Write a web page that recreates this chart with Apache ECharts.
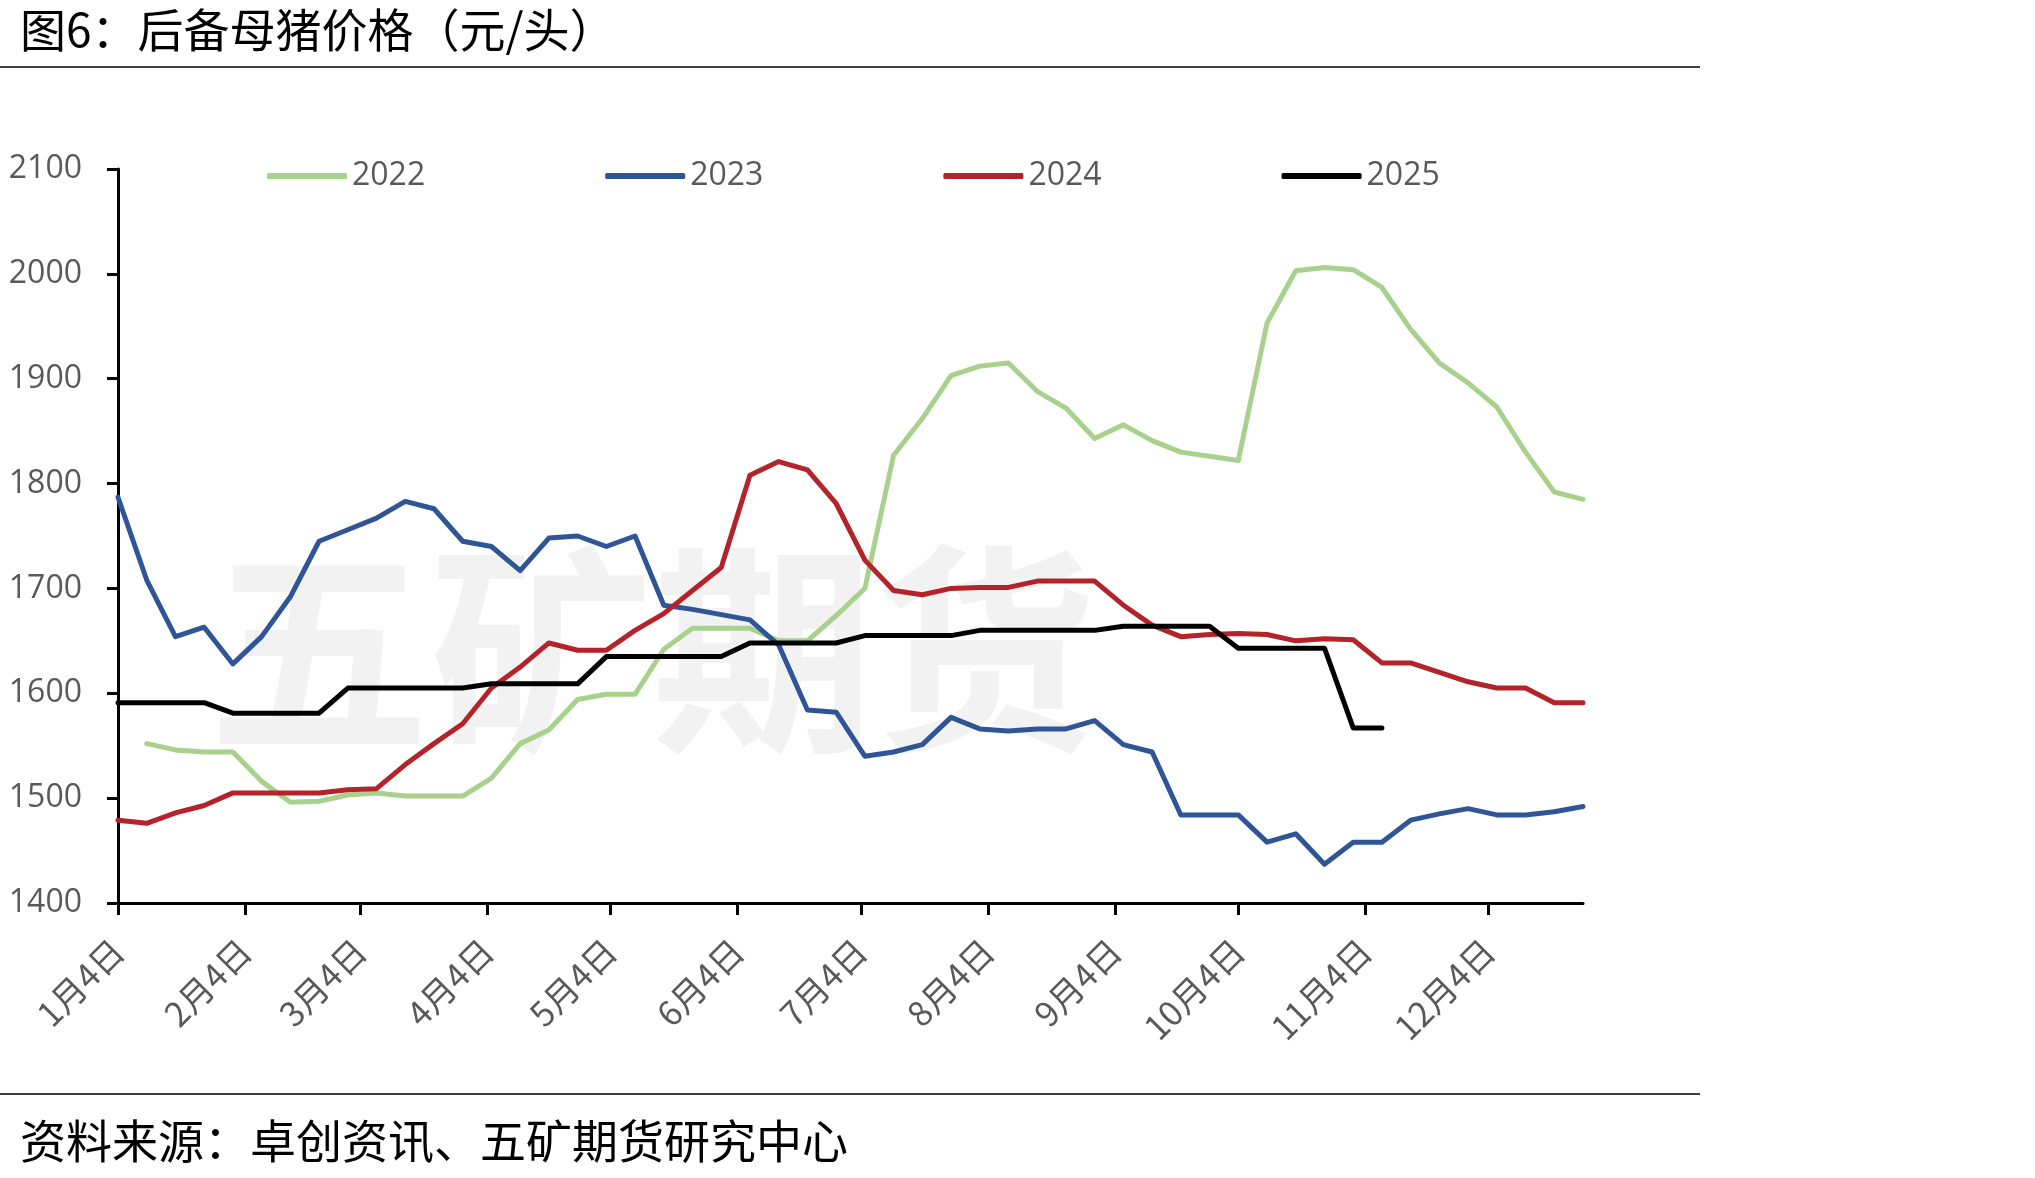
<!DOCTYPE html>
<html>
<head>
<meta charset="utf-8">
<title>后备母猪价格</title>
<script src="https://cdn.jsdelivr.net/npm/echarts@6.0.0/dist/echarts.min.js"></script>
<style>
html, body { margin: 0; padding: 0; background: #fff; }
#main { width: 2035px; height: 1178px; }
</style>
</head>
<body>
<div id="main"></div>
<script>
// 周度日期（各年份统一映射到同一日历位置）
var weekDates = ['01-04', '01-11', '01-18', '01-25', '02-01', '02-08', '02-15', '02-22',
	'03-01', '03-08', '03-15', '03-22', '03-29', '04-05', '04-12', '04-19', '04-26',
	'05-03', '05-10', '05-17', '05-24', '05-31', '06-07', '06-14', '06-21', '06-28',
	'07-05', '07-12', '07-19', '07-26', '08-02', '08-09', '08-16', '08-23', '08-30',
	'09-06', '09-13', '09-20', '09-27', '10-04', '10-11', '10-18', '10-25',
	'11-01', '11-08', '11-15', '11-22', '11-29', '12-06', '12-13', '12-20', '12-27'];

// 横轴刻度（每月4日）
var tickDates = ['01-04', '02-04', '03-04', '04-04', '05-04', '06-04',
	'07-04', '08-04', '09-04', '10-04', '11-04', '12-04'];
var tickLabels = ['1月4日', '2月4日', '3月4日', '4月4日', '5月4日', '6月4日',
	'7月4日', '8月4日', '9月4日', '10月4日', '11月4日', '12月4日'];

var yearNames = ['2022', '2023', '2024', '2025'];
var yearColors = ['#a9d18e', '#2f5597', '#b5232a', '#000000'];

// 后备母猪价格（元/头）
var price2022 = [null, 1552, 1546, 1544, 1544, 1516, 1496, 1497, 1503, 1505, 1502, 1502, 1502,
	1519, 1552, 1565, 1594, 1599, 1599, 1642, 1662, 1662, 1662, 1650, 1650, 1674, 1700,
	1827, 1862, 1903, 1912, 1915, 1888, 1872, 1843, 1856, 1841, 1830, 1826, 1822,
	1953, 2003, 2006, 2004, 1987, 1947, 1915, 1896, 1873, 1830, 1792, 1785];
var price2023 = [1787, 1708, 1654, 1663, 1628, 1654, 1692, 1745, 1756, 1767, 1783, 1776, 1745,
	1740, 1717, 1748, 1750, 1740, 1750, 1684, 1680, 1675, 1670, 1646, 1584, 1582, 1540,
	1544, 1551, 1577, 1566, 1564, 1566, 1566, 1574, 1551, 1544, 1484, 1484, 1484,
	1458, 1466, 1437, 1458, 1458, 1479, 1485, 1490, 1484, 1484, 1487, 1492];
var price2024 = [1479, 1476, 1486, 1493, 1505, 1505, 1505, 1505, 1508, 1509, 1532, 1552, 1571,
	1605, 1625, 1648, 1641, 1641, 1660, 1676, 1698, 1720, 1808, 1821, 1813, 1781, 1727,
	1698, 1694, 1700, 1701, 1701, 1707, 1707, 1707, 1684, 1665, 1654, 1656, 1657,
	1656, 1650, 1652, 1651, 1629, 1629, 1620, 1611, 1605, 1605, 1591, 1591];
var price2025 = [1591, 1591, 1591, 1591, 1581, 1581, 1581, 1581, 1605, 1605, 1605, 1605, 1605,
	1609, 1609, 1609, 1609, 1635, 1635, 1635, 1635, 1635, 1648, 1648, 1648, 1648, 1655,
	1655, 1655, 1655, 1660, 1660, 1660, 1660, 1660, 1664, 1664, 1664, 1664, 1643,
	1643, 1643, 1643, 1567, 1567];

var yearPrices = [price2022, price2023, price2024, price2025];

// 日期转为距1月4日的天数
function dayOffset(md) {
	var p = md.split('-');
	return (Date.UTC(2025, +p[0] - 1, +p[1]) - Date.UTC(2025, 0, 4)) / 86400000;
}

var tickDays = tickDates.map(dayOffset);
var lastDay = dayOffset(weekDates[weekDates.length - 1]);

var seriesList = [];
for (var k = 0; k < yearNames.length; k++) {
	var pts = [];
	for (var i = 0; i < yearPrices[k].length; i++) {
		var v = yearPrices[k][i];
		pts.push([dayOffset(weekDates[i]), v == null ? '-' : v]);
	}
	seriesList.push({
		name : yearNames[k],
		type : 'line',
		symbol : 'none',
		data : pts,
		lineStyle : {
			color : yearColors[k],
			width : 5,
			cap : 'round',
			join : 'round'
		},
		itemStyle : {
			color : yearColors[k]
		}
	});
}

var myChart = echarts.init(document.getElementById('main'));
var option = {
	animation : false,
	backgroundColor : '#ffffff',
	legend : {
		left : 262,
		top : 155,
		itemWidth : 80,
		itemHeight : 6,
		itemGap : 180,
		icon : 'roundRect',
		data : yearNames,
		textStyle : {
			fontFamily : 'Open Sans',
			fontSize : 32,
			color : '#595959'
		}
	},
	grid : {
		left : 118,
		right : 452,
		top : 169,
		bottom : 275
	},
	xAxis : {
		type : 'value',
		min : 0,
		max : lastDay,
		splitLine : { show : false },
		axisLine : { lineStyle : { color : '#000', width : 3 } },
		axisTick : {
			customValues : tickDays,
			length : 12,
			lineStyle : { color : '#000', width : 3 }
		},
		axisLabel : {
			customValues : tickDays,
			rotate : 45,
			margin : 42,
			fontFamily : 'Noto Sans CJK SC',
			fontSize : 34,
			color : '#595959',
			formatter : function(val) {
				var idx = tickDays.indexOf(val);
				return idx >= 0 ? tickLabels[idx] : '';
			}
		}
	},
	yAxis : {
		type : 'value',
		min : 1400,
		max : 2100,
		interval : 100,
		splitLine : { show : false },
		axisLine : { show : true, lineStyle : { color : '#000', width : 3 } },
		axisTick : { show : true, length : 11, lineStyle : { color : '#000', width : 3 } },
		axisLabel : {
			margin : 36,
			fontFamily : 'Open Sans',
			fontSize : 32,
			color : '#595959',
			formatter : function(val) {
				return String(val);
			}
		}
	},
	graphic : [
		{
			type : 'text',
			x : 20,
			y : 30,
			style : {
				text : '图6：后备母猪价格（元/头）',
				font : '46px "Noto Sans CJK SC"',
				fill : '#000',
				verticalAlign : 'middle'
			}
		},
		{
			type : 'line',
			shape : { x1 : 0, y1 : 67, x2 : 1700, y2 : 67 },
			style : { stroke : '#404040', lineWidth : 2 }
		},
		{
			type : 'line',
			shape : { x1 : 0, y1 : 1094, x2 : 1700, y2 : 1094 },
			style : { stroke : '#404040', lineWidth : 2 }
		},
		{
			type : 'text',
			x : 20,
			y : 1141,
			style : {
				text : '资料来源：卓创资讯、五矿期货研究中心',
				font : '46px "Noto Sans CJK SC"',
				fill : '#000',
				verticalAlign : 'middle'
			}
		},
		{
			// 水印
			type : 'text',
			z : -10,
			x : 652,
			y : 650,
			style : {
				text : '五矿期货',
				font : 'bold 222px "Noto Sans CJK SC"',
				fill : '#f2f2f2',
				align : 'center',
				verticalAlign : 'middle'
			}
		}
	],
	series : seriesList
};
myChart.setOption(option);
</script>
</body>
</html>
